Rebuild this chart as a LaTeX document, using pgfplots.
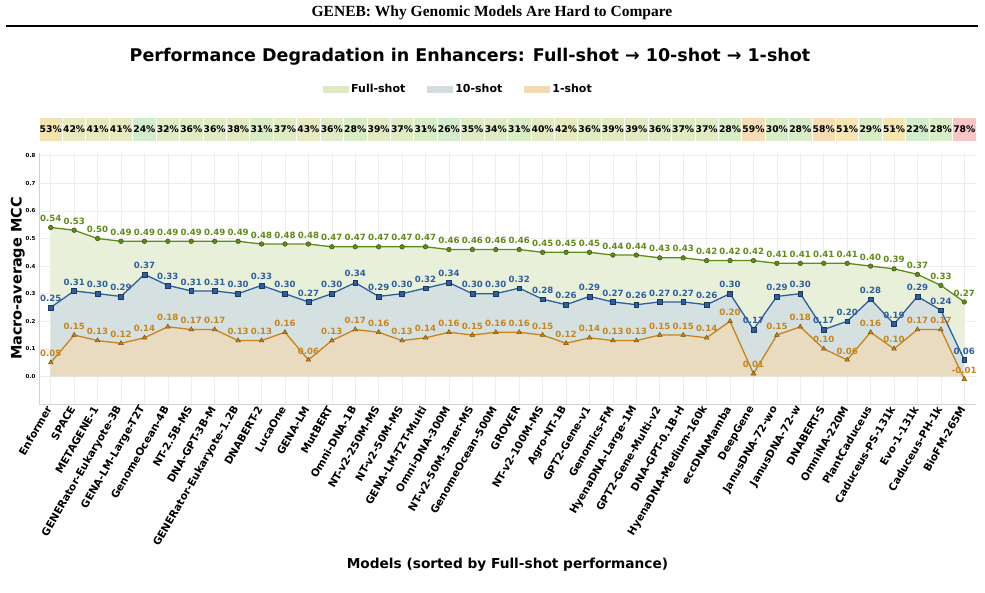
\documentclass[border=0pt]{standalone}
\usepackage{pgfplots}
\pgfplotsset{compat=1.18}
\usepackage{pgfplotstable}
\usepackage{fontspec}
\setmainfont{DejaVu Sans}
\newfontfamily\headfont{Liberation Serif}
\definecolor{fullc}{RGB}{95,140,25}
\definecolor{tenc}{RGB}{45,95,160}
\definecolor{onec}{RGB}{200,132,25}
\definecolor{fullfill}{RGB}{233,240,218}
\definecolor{tenfill}{RGB}{213,225,224}
\definecolor{onefill}{RGB}{232,219,192}
\definecolor{legfull}{RGB}{220,233,196}
\definecolor{legten}{RGB}{211,221,224}
\definecolor{legone}{RGB}{240,220,180}
\definecolor{bin1}{RGB}{211,237,204}
\definecolor{bin2}{RGB}{216,236,200}
\definecolor{bin3}{RGB}{222,235,196}
\definecolor{bin4}{RGB}{226,234,193}
\definecolor{bin5}{RGB}{231,233,190}
\definecolor{bin6}{RGB}{245,230,180}
\definecolor{bin7}{RGB}{242,226,176}
\definecolor{bin8}{RGB}{246,220,182}
\definecolor{bin9}{RGB}{247,197,197}
\newcommand{\fs}[1]{\fontsize{#1}{#1}\selectfont\bfseries}
\pgfplotsset{/pgf/number format/assume math mode=true}

\pgfplotstableread{
x name full ten one pct bin
0 Enformer 0.54 0.25 0.05 53 7
1 SPACE 0.53 0.31 0.15 42 5
2 METAGENE-1 0.50 0.30 0.13 41 5
3 GENERator-Eukaryote-3B 0.49 0.29 0.12 41 5
4 GENA-LM-Large-T2T 0.49 0.37 0.14 24 1
5 GenomeOcean-4B 0.49 0.33 0.18 32 3
6 NT-2.5B-MS 0.49 0.31 0.17 36 3
7 DNA-GPT-3B-M 0.49 0.31 0.17 36 3
8 GENERator-Eukaryote-1.2B 0.49 0.30 0.13 38 4
9 DNABERT-2 0.48 0.33 0.13 31 2
10 LucaOne 0.48 0.30 0.16 37 3
11 GENA-LM 0.48 0.27 0.06 43 5
12 MutBERT 0.47 0.30 0.13 36 3
13 Omni-DNA-1B 0.47 0.34 0.17 28 2
14 NT-v2-250M-MS 0.47 0.29 0.16 39 4
15 NT-v2-50M-MS 0.47 0.30 0.13 37 3
16 GENA-LM-T2T-Multi 0.47 0.32 0.14 31 2
17 Omni-DNA-300M 0.46 0.34 0.16 26 1
18 NT-v2-50M-3mer-MS 0.46 0.30 0.15 35 3
19 GenomeOcean-500M 0.46 0.30 0.16 34 3
20 GROVER 0.46 0.32 0.16 31 2
21 NT-v2-100M-MS 0.45 0.28 0.15 40 4
22 Agro-NT-1B 0.45 0.26 0.12 42 5
23 GPT2-Gene-v1 0.45 0.29 0.14 36 3
24 Genomics-FM 0.44 0.27 0.13 39 4
25 HyenaDNA-Large-1M 0.44 0.26 0.13 39 4
26 GPT2-Gene-Multi-v2 0.43 0.27 0.15 36 3
27 DNA-GPT-0.1B-H 0.43 0.27 0.15 37 3
28 HyenaDNA-Medium-160k 0.42 0.26 0.14 37 3
29 eccDNAMamba 0.42 0.30 0.20 28 2
30 DeepGene 0.42 0.17 0.01 59 8
31 JanusDNA-72-wo 0.41 0.29 0.15 30 2
32 JanusDNA-72-w 0.41 0.30 0.18 28 2
33 DNABERT-S 0.41 0.17 0.10 58 8
34 OmniNA-220M 0.41 0.20 0.06 51 6
35 PlantCaduceus 0.40 0.28 0.16 29 2
36 Caduceus-PS-131k 0.39 0.19 0.10 51 6
37 Evo-1-131k 0.37 0.29 0.17 22 1
38 Caduceus-PH-1k 0.33 0.24 0.17 28 2
39 BioFM-265M 0.27 0.06 -0.01 78 9
}\data

\begin{document}
\begin{tikzpicture}
\path[use as bounding box] (-39pt,-188pt) rectangle (946pt,404pt);
\node[font=\headfont\fs{15.5}] at (453pt,391pt) {GENEB: Why Genomic Models Are Hard to Compare};
\draw[line width=1.2pt] (-33pt,378pt) -- (939pt,378pt);
\node[font=\fs{17.5}] at (431pt,347pt) {Performance Degradation in Enhancers: Full-shot → 10-shot → 1-shot};

\begin{axis}[
  at={(0pt,0pt)}, anchor=south west,
  width=937pt, height=251pt, scale only axis,
  xmin=-0.5, xmax=39.5, ymin=-0.1, ymax=0.81,
  clip=false,
  xtick={0,...,39},
  xticklabels from table={\data}{name},
  ytick={0,0.1,0.2,0.3,0.4,0.5,0.6,0.7,0.8},
  y tick label style={/pgf/number format/fixed, /pgf/number format/fixed zerofill, /pgf/number format/precision=1, font=\fs{5.5}},
  x tick label style={font=\fs{10.5}, rotate=60, anchor=east},
  major tick length=0pt,
  axis x line*=bottom, axis y line*=left,
  axis line style={draw=black!18, line width=0.9pt, -},
  grid=major, grid style={draw=black!7, line width=0.6pt},
  xlabel={Models (sorted by Full-shot performance)},
  xlabel style={font=\fs{13.7}, at={(axis description cs:0.5,-0.6414)}, anchor=center},
  ylabel={Macro-average MCC},
  ylabel style={font=\fs{14.5}, at={(axis description cs:-0.0225,0.5)}, anchor=center},
  legend image code/.code={\fill[#1] (0pt,-3.5pt) rectangle (26pt,3.5pt);},
  legend style={at={(axis description cs:0.3031,1.2549)}, anchor=west, draw=none, fill=none, inner sep=0pt, font=\fs{11}, /tikz/every even column/.append style={column sep=20pt}},
  legend columns=3,
]
\addplot[draw=none, fill=fullfill, forget plot] table[x=x,y=full]{\data} \closedcycle;
\addplot[draw=none, fill=tenfill, forget plot] table[x=x,y=ten]{\data} \closedcycle;
\addplot[draw=none, fill=onefill, forget plot] table[x=x,y=one]{\data} \closedcycle;

\addplot[onec, line width=1.3pt, mark=triangle*, mark size=2.7pt, mark options={fill=onec, draw=onec!60!black, line width=0.5pt}, point meta=y,
  nodes near coords={\pgfmathprintnumber[fixed,fixed zerofill,precision=2]{\pgfplotspointmeta}},
  every node near coord/.append style={font=\fs{8.6}, text=onec, inner sep=1pt, yshift=4.5pt, anchor=south}, forget plot]
  table[x=x,y=one]{\data};
\addplot[tenc, line width=1.3pt, mark=square*, mark size=2.4pt, mark options={fill=tenc, draw=tenc!60!black, line width=0.5pt}, point meta=y,
  nodes near coords={\pgfmathprintnumber[fixed,fixed zerofill,precision=2]{\pgfplotspointmeta}},
  every node near coord/.append style={font=\fs{8.6}, text=tenc, inner sep=1pt, yshift=4.5pt, anchor=south}, forget plot]
  table[x=x,y=ten]{\data};
\addplot[fullc, line width=1.3pt, mark=*, mark size=2.3pt, mark options={fill=fullc, draw=fullc!60!black, line width=0.5pt}, point meta=y,
  nodes near coords={\pgfmathprintnumber[fixed,fixed zerofill,precision=2]{\pgfplotspointmeta}},
  every node near coord/.append style={font=\fs{8.6}, text=fullc, inner sep=1pt, yshift=4.5pt, anchor=south}, forget plot]
  table[x=x,y=full]{\data};

\addlegendimage{fill=legfull, draw=none}
\addlegendentry{Full-shot}
\addlegendimage{fill=legten, draw=none}
\addlegendentry{10-shot}
\addlegendimage{fill=legone, draw=none}
\addlegendentry{1-shot}
\end{axis}

\begin{axis}[
  at={(0pt,263pt)}, anchor=south west,
  width=937pt, height=24pt, scale only axis,
  xmin=-0.5, xmax=39.5, ymin=0, ymax=1,
  hide axis, clip=false,
  cellstyle/.style={ybar, bar width=1, bar shift=0pt, draw=white, line width=0.8pt, fill=#1},
]
\addplot[cellstyle=bin1, restrict expr to domain={\thisrow{bin}}{1:1}] table[x=x, y expr=1]{\data};
\addplot[cellstyle=bin2, restrict expr to domain={\thisrow{bin}}{2:2}] table[x=x, y expr=1]{\data};
\addplot[cellstyle=bin3, restrict expr to domain={\thisrow{bin}}{3:3}] table[x=x, y expr=1]{\data};
\addplot[cellstyle=bin4, restrict expr to domain={\thisrow{bin}}{4:4}] table[x=x, y expr=1]{\data};
\addplot[cellstyle=bin5, restrict expr to domain={\thisrow{bin}}{5:5}] table[x=x, y expr=1]{\data};
\addplot[cellstyle=bin6, restrict expr to domain={\thisrow{bin}}{6:6}] table[x=x, y expr=1]{\data};
\addplot[cellstyle=bin7, restrict expr to domain={\thisrow{bin}}{7:7}] table[x=x, y expr=1]{\data};
\addplot[cellstyle=bin8, restrict expr to domain={\thisrow{bin}}{8:8}] table[x=x, y expr=1]{\data};
\addplot[cellstyle=bin9, restrict expr to domain={\thisrow{bin}}{9:9}] table[x=x, y expr=1]{\data};
\addplot[only marks, mark=*, mark size=0.5pt, mark options={draw=none, fill=none},
  point meta=explicit,
  nodes near coords={\pgfmathprintnumber[fixed,precision=0]{\pgfplotspointmeta}\%},
  every node near coord/.append style={anchor=center, font=\fs{9.2}, text=black, inner sep=0pt}]
  table[x=x, y expr=0.5, meta=pct]{\data};
\end{axis}
\end{tikzpicture}
\end{document}
